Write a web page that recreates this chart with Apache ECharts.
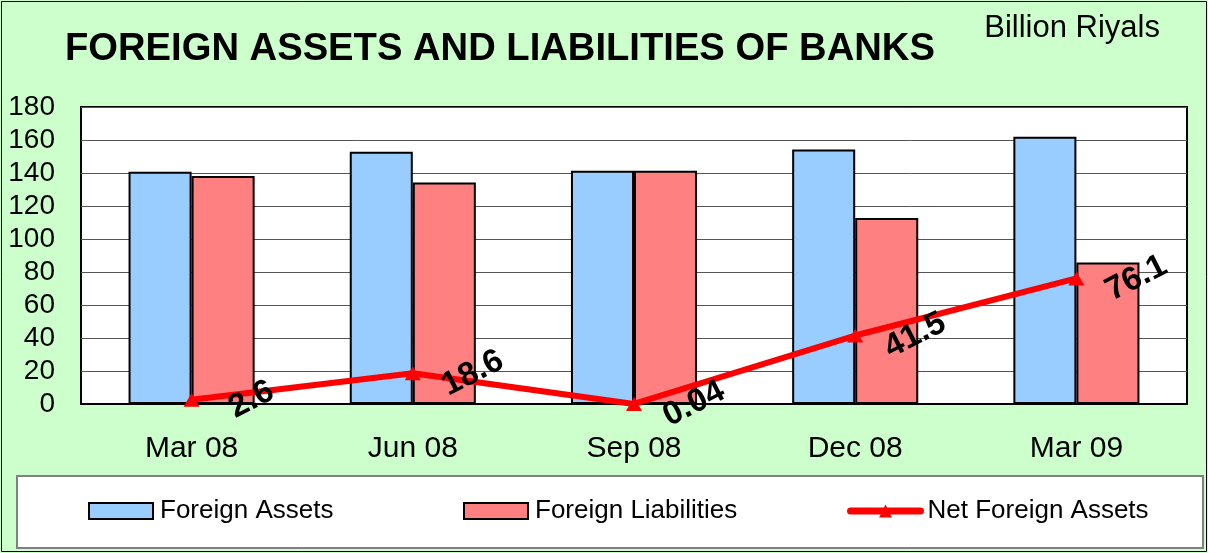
<!DOCTYPE html>
<html>
<head>
<meta charset="utf-8">
<script src="https://cdn.jsdelivr.net/npm/echarts@6/dist/echarts.min.js"></script>
<style>
html,body{margin:0;padding:0;background:#CCFFCC;}
#chart{width:1208px;height:553px;}
</style>
</head>
<body>
<div id="chart"></div>
<script>
var categories = ['Mar 08', 'Jun 08', 'Sep 08', 'Dec 08', 'Mar 09'];
var foreignAssets = [140.8, 152.9, 141.4, 154.3, 161.9];
var foreignLiabilities = [138.2, 134.3, 141.36, 112.8, 85.8];
var netForeignAssets = [2.6, 18.6, 0.04, 41.5, 76.1];
var yTicks = [0, 20, 40, 60, 80, 100, 120, 140, 160, 180];

var FONT = '"Liberation Sans", Arial, sans-serif';
var chart = echarts.init(document.getElementById('chart'));

function legendFor(name, left, extra) {
  var l = {
    data: [name],
    left: left,
    top: 493,
    itemWidth: 64,
    itemHeight: 16,
    itemGap: 0,
    z: 10,
    textStyle: { fontFamily: FONT, fontSize: 26, color: '#000', padding: [0, 0, 0, 2] }
  };
  if (extra) { for (var k in extra) l[k] = extra[k]; }
  return l;
}

var ROT = 27;
var DX = 60;
var rad = ROT * Math.PI / 180;
var labelOffset = [DX * Math.cos(rad), DX * Math.sin(rad)];

chart.setOption({
  backgroundColor: '#CCFFCC',
  animation: false,
  title: [
    { text: 'FOREIGN ASSETS AND LIABILITIES OF BANKS', left: 60, top: 25,
      textStyle: { fontFamily: FONT, fontSize: 38.2, fontWeight: 'bold', color: '#000' } },
    { text: 'Billion Riyals', right: 43, top: 8,
      textStyle: { fontFamily: FONT, fontSize: 31, fontWeight: 'normal', color: '#000' } }
  ],
  graphic: [
    { type: 'rect', z: -1, silent: true, shape: { x: 1.5, y: 1.5, width: 1205, height: 550 },
      style: { fill: 'none', stroke: '#000', lineWidth: 1 } },
    { type: 'rect', z: 0, silent: true, shape: { x: 17, y: 476, width: 1186, height: 72 },
      style: { fill: '#fff', stroke: '#808080', lineWidth: 2 } }
  ],
  legend: [
    legendFor('Foreign Assets', 83, { icon: 'rect' }),
    legendFor('Foreign Liabilities', 458, { icon: 'rect' }),
    legendFor('Net Foreign Assets', 842, { itemWidth: 70, lineStyle: { width: 7, cap: 'round' } })
  ],
  grid: {
    left: 81, right: 21, top: 107, bottom: 149,
    show: true, backgroundColor: '#fff', borderColor: '#000', borderWidth: 2
  },
  xAxis: {
    type: 'category',
    data: categories,
    axisTick: { show: false },
    axisLine: { lineStyle: { color: '#000', width: 2 } },
    axisLabel: { fontFamily: FONT, fontSize: 30, color: '#000', margin: 30 }
  },
  yAxis: {
    type: 'value',
    min: yTicks[0], max: yTicks[yTicks.length - 1], interval: 20,
    axisLine: { show: false },
    axisTick: { show: false },
    axisLabel: { fontFamily: FONT, fontSize: 28, color: '#000', margin: 26 },
    splitLine: { lineStyle: { color: '#555', width: 1 } }
  },
  series: [
    { name: 'Foreign Assets', type: 'bar', data: foreignAssets,
      barWidth: '28.5%', barGap: '0%',
      itemStyle: { color: '#99CCFF', borderColor: '#000', borderWidth: 2 } },
    { name: 'Foreign Liabilities', type: 'bar', data: foreignLiabilities,
      barWidth: '28.5%', barGap: '0%',
      itemStyle: { color: '#FF8080', borderColor: '#000', borderWidth: 2 } },
    { name: 'Net Foreign Assets', type: 'line', data: netForeignAssets,
      symbol: 'triangle', symbolSize: [16, 14], z: 5,
      lineStyle: { color: '#FF0000', width: 6 },
      itemStyle: { color: '#FF0000' },
      label: {
        show: true, position: 'inside', offset: labelOffset, rotate: ROT,
        align: 'center', verticalAlign: 'middle',
        fontFamily: FONT, fontSize: 33, fontWeight: 'bold', color: '#000',
        formatter: function (p) { return String(p.value); }
      } }
  ]
});
</script>
</body>
</html>
